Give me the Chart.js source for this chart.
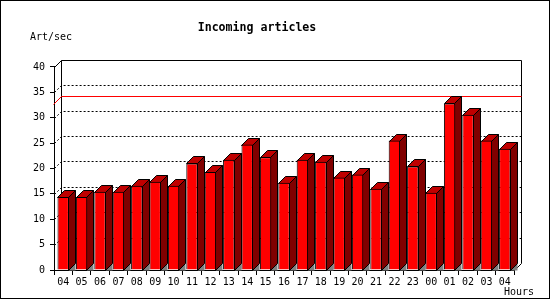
<!DOCTYPE html>
<html>
<head>
<meta charset="utf-8">
<script src="https://cdn.jsdelivr.net/npm/chart.js@4/dist/chart.umd.min.js"></script>
<style>
  body { margin: 0; background: #fff; }
  canvas { display: block; }
</style>
</head>
<body>
<canvas id="chart" width="550" height="300"></canvas>
<script>
// datos del gráfico
const hours = ['04','05','06','07','08','09','10','11','12','13','14','15','16',
               '17','18','19','20','21','22','23','00','01','02','03','04'];
const rates = [14.4, 14.4, 15.4, 15.4, 16.6, 17.4, 16.6, 21.0, 19.3, 21.7, 24.7, 22.2, 17.2,
               21.7, 21.3, 18.2, 18.8, 16.0, 25.5, 20.4, 15.2, 32.8, 30.6, 25.5, 23.9];
const refValue = 32.9;
const yMax = 40;
const yStep = 5;

const DEPTH = 7;
const monoFont = '"DejaVu Sans Mono", monospace';

function px(v) { return Math.round(v) + 0.5; }

function line(ctx, pts) {
    ctx.beginPath();
    ctx.moveTo(pts[0][0], pts[0][1]);
    for (let i = 1; i < pts.length; i++) ctx.lineTo(pts[i][0], pts[i][1]);
    ctx.stroke();
}

function poly(ctx, pts, fill) {
    ctx.beginPath();
    ctx.moveTo(pts[0][0], pts[0][1]);
    for (let i = 1; i < pts.length; i++) ctx.lineTo(pts[i][0], pts[i][1]);
    ctx.closePath();
    ctx.fillStyle = fill;
    ctx.fill();
    ctx.stroke();
}

// pared del fondo, rejilla y caras laterales de las barras
const box3d = {
    id: 'box3d',
    beforeDraw(chart) {
        const ctx = chart.ctx;
        ctx.save();
        ctx.fillStyle = '#fff';
        ctx.fillRect(0, 0, chart.width, chart.height);
        ctx.restore();
    },
    beforeDatasetsDraw(chart) {
        const ctx = chart.ctx;
        const area = chart.chartArea;
        const y = chart.scales.y;
        const D = DEPTH;
        const fl = px(area.left), fr = px(area.right);
        const bl = px(area.left + D), br = px(area.right + D);
        const top = px(y.getPixelForValue(yMax)), bot = px(y.getPixelForValue(0));

        ctx.save();
        ctx.lineWidth = 1;
        ctx.strokeStyle = '#000';

        // rejilla punteada
        ctx.setLineDash([2, 2]);
        for (let v = yStep; v < yMax; v += yStep) {
            const yy = px(y.getPixelForValue(v));
            line(ctx, [[fl, yy], [bl, yy - D], [br, yy - D]]);
        }
        ctx.setLineDash([]);

        // marco de la pared
        line(ctx, [[fl, top], [bl, top - D], [br, top - D], [br, bot - D]]);
        line(ctx, [[bl, top - D], [bl, bot - D]]);
        line(ctx, [[fr, bot], [br, bot - D]]);

        // línea de referencia
        const yr = px(y.getPixelForValue(refValue));
        ctx.strokeStyle = '#ff0000';
        line(ctx, [[fl - 1, yr + 1], [bl, yr - D], [br, yr - D]]);

        // caras 3D de las barras
        ctx.strokeStyle = '#000';
        chart.getDatasetMeta(0).data.forEach(bar => {
            const l = px(bar.x - bar.width / 2);
            const r = px(bar.x + bar.width / 2) - 1;
            const t = px(bar.y);
            const b = px(bar.base);
            ctx.fillStyle = '#808080';
            ctx.beginPath();
            ctx.moveTo(r, b); ctx.lineTo(r + D, b - D); ctx.lineTo(r + D, b);
            ctx.closePath();
            ctx.fill();
            poly(ctx, [[r, t], [r + D, t - D], [r + D, b - D], [r, b]], '#800000');
            poly(ctx, [[l, t], [l + D, t - D], [r + D, t - D], [r, t]], '#c00000');
        });
        ctx.restore();
    },
    afterDraw(chart) {
        const ctx = chart.ctx;
        ctx.save();
        ctx.fillStyle = '#000';
        ctx.font = '10px ' + monoFont;
        ctx.textBaseline = 'middle';
        ctx.textAlign = 'left';
        ctx.fillText('Art/sec', 30, 37);
        ctx.fillText('Hours', 504, 292);
        ctx.strokeStyle = '#000';
        ctx.lineWidth = 1;
        ctx.strokeRect(0.5, 0.5, 549, 298);
        ctx.restore();
    }
};

new Chart(document.getElementById('chart'), {
    type: 'bar',
    data: {
        labels: hours,
        datasets: [{
            data: rates,
            backgroundColor: '#ff0000',
            borderColor: '#000',
            borderWidth: 1,
            barPercentage: 0.62,
            categoryPercentage: 1.0
        }]
    },
    options: {
        responsive: false,
        animation: false,
        layout: { padding: { left: 0, right: 36, top: 0, bottom: 0 } },
        plugins: {
            legend: { display: false },
            tooltip: { enabled: false },
            title: {
                display: true,
                text: 'Incoming articles',
                color: '#000',
                font: { family: monoFont, size: 11.6, weight: 'bold' },
                padding: { top: 21, bottom: 32 }
            }
        },
        scales: {
            x: {
                afterFit: scale => { scale.height = 30; },
                grid: { display: true, drawOnChartArea: false, drawTicks: true, tickLength: 5, color: '#000' },
                border: { display: true, color: '#000', width: 1 },
                ticks: { color: '#000', padding: 1, maxRotation: 0, autoSkip: false,
                         font: { family: monoFont, size: 10 } }
            },
            y: {
                min: 0,
                max: yMax,
                afterFit: scale => { scale.width = 54; },
                grid: { display: true, drawOnChartArea: false, drawTicks: true, tickLength: 4, color: '#000' },
                border: { display: true, color: '#000', width: 1 },
                ticks: { stepSize: yStep, color: '#000', padding: 5,
                         font: { family: monoFont, size: 10 } }
            }
        }
    },
    plugins: [box3d]
});
</script>
</body>
</html>
